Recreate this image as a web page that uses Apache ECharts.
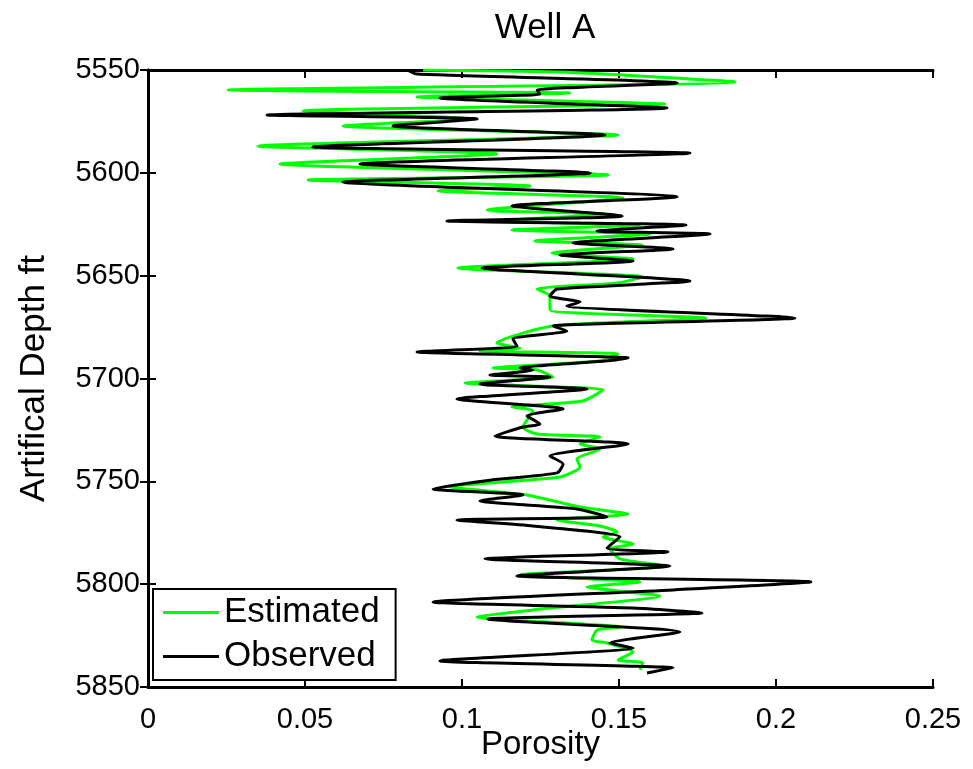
<!DOCTYPE html>
<html>
<head>
<meta charset="utf-8">
<script src="https://cdn.jsdelivr.net/npm/echarts@6/dist/echarts.min.js"></script>
<style>
  html, body { margin: 0; padding: 0; background: #fff; }
  #wellChart { width: 973px; height: 769px; }
</style>
</head>
<body>
<div id="wellChart"></div>
<script>
// observed porosity log (black)
const obsDepth = [5550, 5552, 5556.3, 5559.7, 5561.7, 5563.6, 5568.5, 5571.9, 5573.8, 5577.2,
  5581.6, 5587.4, 5590.4, 5595.7, 5600.1, 5604.5, 5611.7, 5616.1, 5621, 5623.4,
  5625.4, 5628.3, 5629.7, 5634.1, 5637, 5640, 5642.9, 5646.3, 5652.6, 5656.5,
  5659.9, 5662.8, 5664.7, 5670.6, 5674.5, 5676.9, 5680.8, 5684.2, 5687.1, 5690,
  5691.5, 5694.9, 5695.9, 5698.3, 5699.3, 5702.7, 5705.1, 5710, 5714.8, 5718.2,
  5722.1, 5723.6, 5728, 5731.8, 5737.7, 5741.6, 5745.9, 5749.5, 5753.7, 5756.6,
  5759.5, 5763.4, 5767.3, 5768.8, 5771.7, 5777, 5782.4, 5784.3, 5787.7, 5791.2,
  5796, 5798.9, 5802.8, 5808.7, 5811.6, 5814, 5817, 5823.2, 5828.6, 5831,
  5837.3, 5840.7, 5843.2];
const obsPorosity = [0.0825, 0.0857, 0.1685, 0.1239, 0.1248, 0.093, 0.1653, 0.0379, 0.1048, 0.078,
  0.1455, 0.0525, 0.1726, 0.0675, 0.1408, 0.0621, 0.1685, 0.1159, 0.151, 0.0952,
  0.1713, 0.143, 0.179, 0.1354, 0.1672, 0.1312, 0.1545, 0.1064, 0.1726, 0.1303,
  0.128, 0.1376, 0.1334, 0.206, 0.129, 0.1334, 0.1162, 0.1175, 0.0857, 0.1529,
  0.1455, 0.1185, 0.1226, 0.1089, 0.128, 0.1057, 0.1398, 0.0984, 0.1322, 0.1207,
  0.1248, 0.1194, 0.1105, 0.1529, 0.128, 0.1322, 0.1303, 0.1089, 0.0908, 0.1194,
  0.1057, 0.1366, 0.1462, 0.0984, 0.1226, 0.1503, 0.1462, 0.1656, 0.1073, 0.1662,
  0.1175, 0.2111, 0.1672, 0.0908, 0.1545, 0.1764, 0.1083, 0.1694, 0.1471, 0.1545,
  0.093, 0.1672, 0.1589];

// estimated porosity (green)
const estDepth = [5550, 5551, 5555.8, 5559.7, 5561.2, 5563.1, 5566.5, 5569.9, 5573.8, 5577.2,
  5581.6, 5587, 5590.8, 5595.7, 5601, 5603.5, 5606.4, 5608.8, 5612.2, 5618.1,
  5620, 5623.4, 5625.4, 5627.8, 5629.7, 5633.1, 5635.1, 5639, 5641.9, 5646.3,
  5650.6, 5653.6, 5656.5, 5659.9, 5666.7, 5670.6, 5674.5, 5682.7, 5685.2, 5686.6,
  5688.1, 5691.5, 5694.9, 5695.9, 5699.3, 5702.2, 5705.6, 5710.9, 5713.9, 5715.8,
  5723.6, 5727, 5728.4, 5731.8, 5734.3, 5739.1, 5743, 5747.9, 5752.7, 5756.6,
  5762.5, 5765.9, 5768.8, 5771.7, 5774.6, 5777.1, 5780.5, 5782.9, 5787.7, 5791.2,
  5795.5, 5798.9, 5801.4, 5805.7, 5812, 5816, 5820.8, 5822.3, 5827.1, 5828.6,
  5833, 5836.9, 5838.3, 5841.7];
const estPorosity = [0.0876, 0.1312, 0.187, 0.0255, 0.1344, 0.0857, 0.1646, 0.0494, 0.1025, 0.0621,
  0.1497, 0.035, 0.1111, 0.042, 0.1465, 0.051, 0.1217, 0.0924, 0.1513, 0.108,
  0.1455, 0.1121, 0.1567, 0.1159, 0.1599, 0.1232, 0.1573, 0.1287, 0.1545, 0.0987,
  0.1576, 0.1494, 0.1239, 0.128, 0.128, 0.1777, 0.129, 0.1111, 0.1185, 0.1057,
  0.1497, 0.1439, 0.1099, 0.1239, 0.129, 0.101, 0.1449, 0.1385, 0.1159, 0.1226,
  0.1194, 0.1239, 0.1439, 0.1376, 0.1439, 0.1366, 0.1376, 0.1312, 0.0962, 0.1207,
  0.1376, 0.1529, 0.1303, 0.1439, 0.1494, 0.1449, 0.1545, 0.1471, 0.1503, 0.1646,
  0.1185, 0.1567, 0.1398, 0.163, 0.1258, 0.1048, 0.1503, 0.143, 0.1414, 0.1462,
  0.1545, 0.1497, 0.1576, 0.1567];

const xTicks = [0, 0.05, 0.1, 0.15, 0.2, 0.25];
const yTicks = [5550, 5600, 5650, 5700, 5750, 5800, 5850];

const font = "'Liberation Sans', Arial, Helvetica, sans-serif";

function pairs(xs, ys) {
  return xs.map((v, i) => [v, ys[i]]);
}

let wellChart = echarts.init(document.getElementById("wellChart"));

const boxAxis = {
  axisLine: { show: true, lineStyle: { color: "#000", width: 3 } },
  axisTick: { show: true, inside: true, length: 8, lineStyle: { color: "#000", width: 2 } },
  splitLine: { show: false }
};

wellChart.setOption({
  backgroundColor: "#fff",
  animation: false,
  title: {
    text: "Well A",
    left: 540,
    top: 6,
    textAlign: "center",
    textStyle: { fontFamily: font, fontSize: 35, fontWeight: "normal", color: "#000" }
  },
  grid: { left: 148, top: 70, right: 40, bottom: 82, outerBoundsMode: "none", containLabel: false },
  legend: {
    orient: "vertical",
    left: 153,
    top: 589,
    padding: [6, 16, 6, 10],
    itemGap: 9,
    itemWidth: 56,
    itemHeight: 3,
    icon: "rect",
    borderColor: "#000",
    borderWidth: 2,
    borderRadius: 0,
    backgroundColor: "#fff",
    textStyle: { fontFamily: font, fontSize: 35, color: "#000", padding: [0, 0, 0, 0] },
    data: ["Estimated", "Observed"]
  },
  xAxis: [
    Object.assign({}, boxAxis, {
      type: "value",
      min: xTicks[0],
      max: xTicks[xTicks.length - 1],
      interval: 0.05,
      position: "bottom",
      name: "Porosity",
      nameLocation: "middle",
      nameGap: 41,
      nameMoveOverlap: false,
      nameTextStyle: { fontFamily: font, fontSize: 33, color: "#000" },
      axisLabel: { fontFamily: font, fontSize: 29, color: "#000", margin: 18 }
    }),
    Object.assign({}, boxAxis, {
      type: "value",
      min: xTicks[0],
      max: xTicks[xTicks.length - 1],
      interval: 0.05,
      position: "top",
      axisLabel: { show: false }
    })
  ],
  yAxis: [
    Object.assign({}, boxAxis, {
      type: "value",
      inverse: true,
      min: yTicks[0],
      max: yTicks[yTicks.length - 1],
      interval: 50,
      position: "left",
      name: "Artifical Depth ft",
      nameLocation: "middle",
      nameGap: 96,
      nameMoveOverlap: false,
      nameTextStyle: { fontFamily: font, fontSize: 35, color: "#000" },
      axisLabel: {
        fontFamily: font, fontSize: 29, color: "#000", margin: 8,
        formatter: (v) => String(v)
      }
    }),
    Object.assign({}, boxAxis, {
      type: "value",
      inverse: true,
      min: yTicks[0],
      max: yTicks[yTicks.length - 1],
      interval: 50,
      position: "right",
      axisLabel: { show: false }
    })
  ],
  series: [
    {
      name: "Estimated",
      type: "line",
      symbol: "none",
      smooth: 0.2,
      data: pairs(estPorosity, estDepth),
      lineStyle: { color: "#00ff00", width: 3 },
      itemStyle: { color: "#00ff00" }
    },
    {
      name: "Observed",
      type: "line",
      symbol: "none",
      smooth: 0.2,
      data: pairs(obsPorosity, obsDepth),
      lineStyle: { color: "#000", width: 3 },
      itemStyle: { color: "#000" }
    }
  ]
});
</script>
</body>
</html>
